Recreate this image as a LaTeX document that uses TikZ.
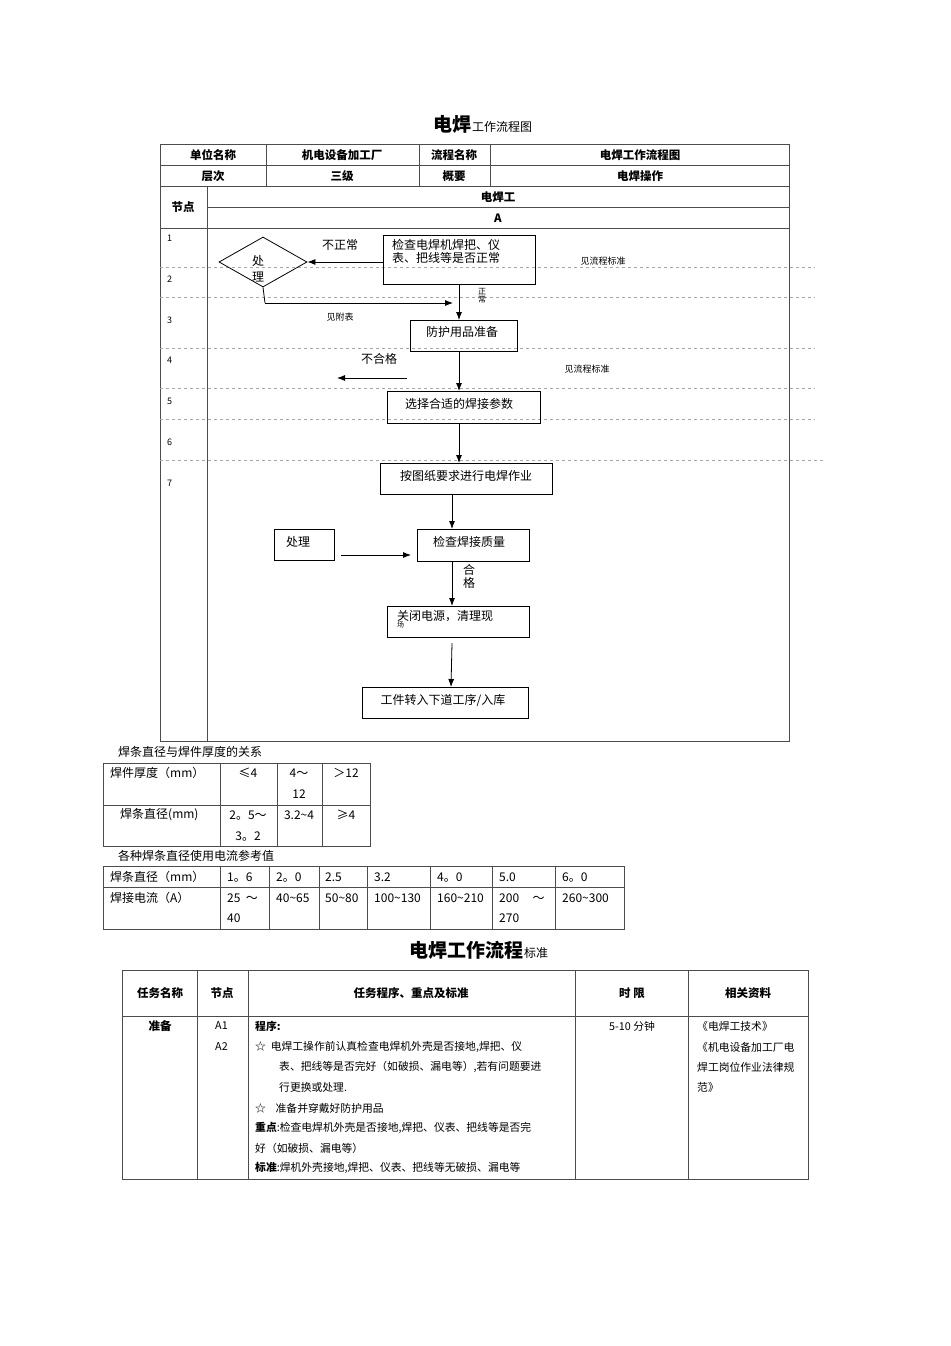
\documentclass[tikz,border=0pt]{standalone}
\usepackage{fontspec}
\setmainfont{Noto Sans CJK SC}
\usetikzlibrary{shapes.geometric,arrows.meta}
\begin{document}
\begin{tikzpicture}[x=1pt,y=-1pt,
  every node/.style={inner sep=0pt,font=\fontsize{11}{12}\selectfont},
  box/.style={draw,thick,inner sep=0pt},
  ar/.style={-{Latex[length=8pt,width=6pt]},thick},
  tl/.style={draw=black!70,line width=0.8pt},
  dl/.style={draw=black!35,dashed,line width=0.6pt},
  hb/.style={font=\fontsize{11.5}{12}\selectfont\bfseries},
  sm/.style={font=\fontsize{9}{10}\selectfont},
  fl/.style={font=\fontsize{12}{13}\selectfont}]
\useasboundingbox (0,0) rectangle (950,1346);
% title
\node[font=\fontsize{19}{20}\selectfont\bfseries,anchor=base east] (t1) at (472,131) {电焊};
\node[font=\fontsize{12}{13}\selectfont,anchor=base west] (t1b) at (472,131) {工作流程图};
% table 1 frame
\draw[tl] (160,144) rectangle (789,741);
\foreach \y in {165,186} \draw[tl] (160,\y) -- (789,\y);
\draw[tl] (207,207) -- (789,207);
\draw[tl] (160,228) -- (789,228);
\foreach \x in {266,419,490} \draw[tl] (\x,144) -- (\x,186);
\draw[tl] (207,186) -- (207,741);
\node[hb] (h1) at (213,155) {单位名称};
\node[hb] (h2) at (342,155) {机电设备加工厂};
\node[hb] (h3) at (454,155) {流程名称};
\node[hb] (h4) at (640,155) {电焊工作流程图};
\node[hb] (h5) at (213,176) {层次};
\node[hb] (h6) at (342,176) {三级};
\node[hb] (h7) at (454,176) {概要};
\node[hb] (h8) at (640,176) {电焊操作};
\node[hb] (h9) at (183,207) {节点};
\node[hb] (h10) at (498,197) {电焊工};
\node[hb] (h11) at (498,218) {A};
% dashed lines
\foreach \y in {267,297,348,388,419} \draw[dl] (160,\y) -- (815,\y);
\draw[dl] (160,460) -- (826,460);
\foreach \n/\y in {1/238,2/279,3/320,4/360,5/401,6/442,7/483}
  \node[sm,anchor=west] (r\n) at (167,\y) {\n};
% flow
\node[draw,thick,diamond,minimum width=88pt,minimum height=50pt,aspect=1.76] (d1) at (263,262) {};
\node[fl] (d1a) at (258,261) {处};
\node[fl] (d1b) at (258,277) {理};
\node[box,minimum width=152pt,minimum height=49pt] (b1) at (459,259.5) {};
\node[fl,anchor=north west,align=left] (b1t) at (392,239) {检查电焊机焊把、仪\\表、把线等是否正常};
\draw[ar] (b1.west |- d1.east) -- (d1.east);
\node[fl] (l1) at (340,245) {不正常};
\coordinate (c1) at (265,303);
\coordinate (c2) at (453,303);
\draw[thick] (d1.south) -- (c1);
\draw[ar] (c1) -- (c2);
\node[sm] (l2) at (340,317) {见附表};
\node[sm] (l3) at (603,261) {见流程标准};
\node[box,minimum width=107pt,minimum height=31pt] (b2) at (463.5,335.5) {};
\node[fl] (b2t) at (462,332) {防护用品准备};
\draw[ar] (459,284) -- (459,320);
\node[sm,align=center,font=\fontsize{8}{8}\selectfont] (l4) at (482,296) {正\\常};
\draw[ar] (459,351) -- (459,391);
\node[fl] (l5) at (379,359) {不合格};
\coordinate (c3) at (407,378);
\coordinate (c4) at (337,378);
\draw[ar] (c3) -- (c4);
\node[sm] (l6) at (587,369) {见流程标准};
\node[box,minimum width=153pt,minimum height=32pt] (b3) at (463.5,407) {};
\node[fl] (b3t) at (459,404) {选择合适的焊接参数};
\draw[ar] (459,423) -- (459,463);
\node[box,minimum width=172pt,minimum height=31pt] (b4) at (466,478.5) {};
\node[fl] (b4t) at (466,476) {按图纸要求进行电焊作业};
\draw[ar] (452,494) -- (452,529);
\node[box,minimum width=112pt,minimum height=32pt] (b5) at (473,545) {};
\node[fl] (b5t) at (469,542) {检查焊接质量};
\node[box,minimum width=60pt,minimum height=31pt] (b6) at (304,544.5) {};
\node[fl] (b6t) at (298,542) {处理};
\draw[ar] (341,555) -- (411,555);
\draw[ar] (452,561) -- (452,606);
\node[fl,align=center] (l7) at (469,576) {合\\格};
\node[box,minimum width=142pt,minimum height=31pt] (b7) at (458,621.5) {};
\node[fl,anchor=north west,align=left] (b7t) at (397,610) {关闭电源，清理现\\[-6pt]{\fontsize{7}{7}\selectfont 场}};
\draw[ar] (452,643) -- (451,687);
\node[box,minimum width=166pt,minimum height=31pt] (b8) at (445,702.5) {};
\node[fl] (b8t) at (443,700) {工件转入下道工序/入库};
% table 2
\node[fl,anchor=west] (c5) at (118,752) {焊条直径与焊件厚度的关系};
\draw[tl] (103,763) rectangle (370,846);
\draw[tl] (103,805) -- (370,805);
\foreach \x in {220,277,322} \draw[tl] (\x,763) -- (\x,846);
\node[fl,anchor=west] (x1) at (110,773) {焊件厚度（mm）};
\node[fl] (x2) at (248,773) {≤4};
\node[fl] (x3) at (299,773) {4～};
\node[fl] (x4) at (299,794) {12};
\node[fl] (x5) at (346,773) {＞12};
\node[fl,anchor=west] (x6) at (120,815) {焊条直径(mm)};
\node[fl] (x7) at (248,815) {2。5～};
\node[fl] (x8) at (248,836) {3。2};
\node[fl] (x9) at (299,815) {3.2\~{}4};
\node[fl] (x10) at (346,815) {≥4};
% table 3
\node[fl,anchor=west] (c6) at (118,856) {各种焊条直径使用电流参考值};
\draw[tl] (103,866) rectangle (624,929);
\draw[tl] (103,887) -- (624,887);
\foreach \x in {220,269,319,367,430,492,555} \draw[tl] (\x,866) -- (\x,929);
\node[fl,anchor=west] (y0) at (110,877) {焊条直径（mm）};
\node[fl,anchor=west] (y1) at (110,898) {焊接电流（A）};
\foreach \x/\a/\b [count=\i] in {227/1。6/25 \ ～,276/2。0/40\~{}65,325/2.5/50\~{}80,374/3.2/100\~{}130,437/4。0/160\~{}210,499/5.0/200 \ \ \ \ ～,562/6。0/260\~{}300}{
  \node[fl,anchor=west] (ya\i) at (\x,877) {\a};
  \node[fl,anchor=west] (yb\i) at (\x,898) {\b};}
\node[fl,anchor=west] (yc1) at (227,918) {40};
\node[fl,anchor=west] (yc2) at (499,918) {270};
% title 2
\node[font=\fontsize{19}{20}\selectfont\bfseries,anchor=base east] (t2) at (524,957) {电焊工作流程};
\node[font=\fontsize{12}{13}\selectfont,anchor=base west] (t2b) at (524,957) {标准};
% table 4
\draw[tl] (122,970) rectangle (808,1179);
\draw[tl] (122,1016) -- (808,1016);
\foreach \x in {197,248,575,688} \draw[tl] (\x,970) -- (\x,1179);
\node[hb] (k1) at (160,993) {任务名称};
\node[hb] (k2) at (222,993) {节点};
\node[hb] (k3) at (411,993) {任务程序、重点及标准};
\node[hb] (k4) at (632,993) {时 限};
\node[hb] (k5) at (748,993) {相关资料};
\node[hb] (k6) at (160,1026) {准备};
\begin{scope}[every node/.style={inner sep=0pt,anchor=west,font=\fontsize{10.8}{11}\selectfont}]
\node (m1) at (215,1026) {A1};
\node (m2) at (215,1047) {A2};
\node (p1) at (255,1026) {\bfseries 程序:};
\node (p2) at (255,1047) {☆\ \ 电焊工操作前认真检查电焊机外壳是否接地,焊把、仪};
\node (p3) at (279,1067) {表、把线等是否完好（如破损、漏电等）,若有问题要进};
\node (p4) at (279,1087) {行更换或处理.};
\node (p5) at (255,1108) {☆\ \ \ \ 准备并穿戴好防护用品};
\node (p6) at (255,1128) {\bfseries 重点\mdseries :检查电焊机外壳是否接地,焊把、仪表、把线等是否完};
\node (p7) at (255,1148) {好（如破损、漏电等）};
\node (p8) at (255,1168) {\bfseries 标准\mdseries :焊机外壳接地,焊把、仪表、把线等无破损、漏电等};
\node (q1) at (609,1026) {5-10 分钟};
\node (s1) at (697,1026) {《电焊工技术》};
\node (s2) at (697,1047) {《机电设备加工厂电};
\node (s3) at (697,1067) {焊工岗位作业法律规};
\node (s4) at (697,1087) {范》};
\end{scope}
\end{tikzpicture}
\end{document}
